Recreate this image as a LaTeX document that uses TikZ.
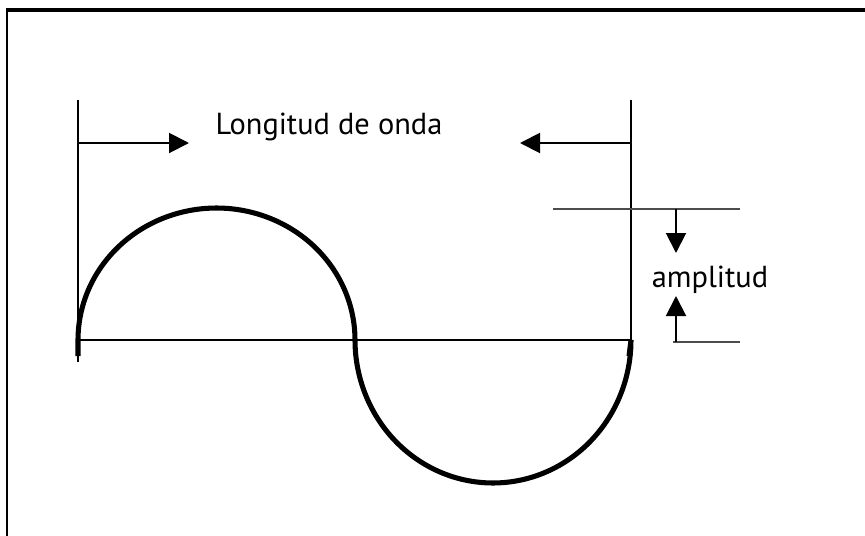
\documentclass[tikz,border=0pt]{standalone}
\usepackage{fontspec}
\setmainfont{PT Sans}
\usetikzlibrary{arrows.meta}
\begin{document}
\begin{tikzpicture}[x=0.75pt,y=-0.75pt,
  guide/.style={line width=1.5pt, black},
  thin guide/.style={line width=0.9pt, black!70},
  dimarrow/.style={line width=1.5pt, -{Triangle[length=15pt,width=15pt]}},
  wave/.style={line width=3.8pt, black},
  lbl/.style={font=\fontsize{22.8}{26}\selectfont, inner sep=0pt}]
\useasboundingbox (0,0) rectangle (865,536);
% frame
\draw[line width=1.5pt] (7,536) -- (7,10);
\draw[line width=2.4pt] (6,10) -- (865,10);
% coordinates
\coordinate (lt) at (78,100);
\coordinate (lb) at (78,362);
\coordinate (rt) at (631,100);
\coordinate (rb) at (631,340);
\coordinate (axl) at (78,340);
\coordinate (axr) at (631,340);
\coordinate (la) at (78,143);
\coordinate (latip) at (189,143);
\coordinate (ra) at (631,143);
\coordinate (ratip) at (520,143);
\coordinate (at1) at (553,209);
\coordinate (at2) at (740,209);
\coordinate (ab1) at (673,342);
\coordinate (ab2) at (740,342);
\coordinate (ad) at (676,209);
\coordinate (adtip) at (676,253);
\coordinate (au) at (676,342);
\coordinate (autip) at (676,296);
% verticals and axis
\draw[guide] (lt) -- (lb);
\draw[guide] (rt) -- (rb);
\draw[guide] (axl) -- (axr);
% wavelength arrows
\draw[dimarrow] (la) -- (latip);
\draw[dimarrow] (ra) -- (ratip);
\node[lbl] (lon) at (329,127) {Longitud de onda};
% amplitude
\draw[thin guide] (at1) -- (at2);
\draw[thin guide] (ab1) -- (ab2);
\draw[dimarrow] (ad) -- (adtip);
\draw[dimarrow] (au) -- (autip);
\node[lbl] (amp) at (710,280) {amplitud};
% wave
\draw[wave] (78,356) -- (78,340)
  plot[domain=0:180, samples=60, smooth] ({216.5-138.5*cos(\x)},{340-132*sin(\x)})
  plot[domain=0:180, samples=60, smooth] ({493-138*cos(\x)},{340+143*sin(\x)})
  -- (629,356);
\end{tikzpicture}
\end{document}
